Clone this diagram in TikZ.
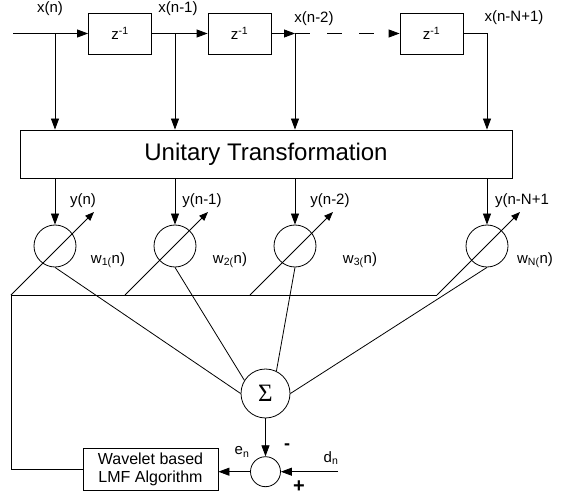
\documentclass[tikz,border=0pt]{standalone}
\usepackage{fontspec}
\setmainfont{Liberation Sans}
\newfontfamily\sigmafont{Liberation Serif}
\usetikzlibrary{arrows.meta, calc}

\begin{document}
\begin{tikzpicture}[
    x=1pt, y=-1pt, line width=0.8pt,
    every node/.style={font=\fontsize{15}{17}\selectfont, inner sep=0pt},
    delay/.style={rectangle, draw, minimum width=63pt, minimum height=41pt},
    weight/.style={circle, draw, minimum size=42pt},
    arr/.style={-{Triangle[length=11pt, width=8pt]}},
    tune/.style={-{Triangle[length=9pt, width=7pt]}}
]
\useasboundingbox (0,0) rectangle (571,500);

% tapped delay line
\coordinate (in) at (13,33.5);
\node[delay] (d1) at (120,33.5) {z\textsuperscript{-1}};
\node[delay] (d2) at (239.5,33.5) {z\textsuperscript{-1}};
\node[delay] (d3) at (431.5,33.5) {z\textsuperscript{-1}};
\coordinate (t1) at (55,33.5);
\coordinate (t2) at (175,33.5);
\coordinate (t3) at (295,33.5);
\coordinate (t4) at (487,33.5);
\node (xn0) at (50,9) {x(n)};
\node (xn1) at (178,9) {x(n-1)};
\node (xn2) at (314,19) {x(n-2)};
\node (xn3) at (514,18) {x(n-N+1)};

\node[draw, minimum width=492pt, minimum height=48pt, font=\fontsize{24}{28}\selectfont] (ut) at (266,154) {Unitary Transformation};

% adaptive weights
\node[weight] (w1) at (55,246) {};
\node[weight] (w2) at (175,246) {};
\node[weight] (w3) at (295,246) {};
\node[weight] (w4) at (487,246) {};
\node (yn0) at (83,201) {y(n)};
\node (yn1) at (202,201) {y(n-1)};
\node (yn2) at (330,201) {y(n-2)};
\node (yn3) at (522,201) {y(n-N+1};
\node (wl1) at (108,260) {w\textsubscript{1(}n)};
\node (wl2) at (230,260) {w\textsubscript{2(}n)};
\node (wl3) at (360,260) {w\textsubscript{3(}n)};
\node (wl4) at (535,260) {w\textsubscript{N(}n)};

\coordinate (b1) at (11,295);
\coordinate (b2) at (125,295);
\coordinate (b3) at (250,295);
\coordinate (b4) at (437,295);
\coordinate (g1) at (94,212);
\coordinate (g2) at (208,212);
\coordinate (g3) at (333,212);
\coordinate (g4) at (520,212);

% summer, error and update
\node[circle, draw, minimum size=49pt, font=\sigmafont\fontsize{25}{25}\selectfont] (sum) at (265.5,393.5) {Σ};
\node[circle, draw, minimum size=30pt] (err) at (265.5,471.7) {};
\node[draw, minimum width=135pt, minimum height=42pt, align=center, font=\fontsize{16}{18}\selectfont] (lmf) at (150.5,469) {Wavelet based\\LMF Algorithm};
\coordinate (dn) at (338,471.7);
\node (en) at (242,452) {e\textsubscript{n}};
\node (dl) at (331,458) {d\textsubscript{n}};
\node[font=\fontsize{18}{18}\selectfont\bfseries] (mi) at (287,447) {-};
\node[font=\fontsize{20}{20}\selectfont\bfseries] (pl) at (299,487) {+};

\draw[arr] (in) -- (d1.west);
\draw[arr] (d1.east) -- (d2.west);
\draw[arr] (d2.east) -- (t3);
\draw[arr, dash pattern=on 15pt off 17pt] (t3) -- (d3.west);
\draw (d3.east) -- (t4);
\draw[arr] (t1) -- (t1 |- ut.north);
\draw[arr] (t2) -- (t2 |- ut.north);
\draw[arr] (t3) -- (t3 |- ut.north);
\draw[arr] (t4) -- (t4 |- ut.north);

\draw[arr] (ut.south -| w1) -- (w1.north);
\draw[arr] (ut.south -| w2) -- (w2.north);
\draw[arr] (ut.south -| w3) -- (w3.north);
\draw[arr] (ut.south -| w4) -- (w4.north);

\draw (b1) -- (b4);
\draw[tune] (b1) -- (g1);
\draw[tune] (b2) -- (g2);
\draw[tune] (b3) -- (g3);
\draw[tune] (b4) -- (g4);

\draw (w1.south) -- (sum.west);
\draw (w2.south) -- (sum.148);
\draw (w3.south) -- (sum.64);
\draw (w4.south) -- (sum.east);

\draw[arr] (sum.south) -- (err.north);
\draw[arr] (dn) -- (err.east);
\draw[arr] (err.west) -- (err.west -| lmf.east);
\draw (b1) |- (lmf.west);
\end{tikzpicture}
\end{document}
